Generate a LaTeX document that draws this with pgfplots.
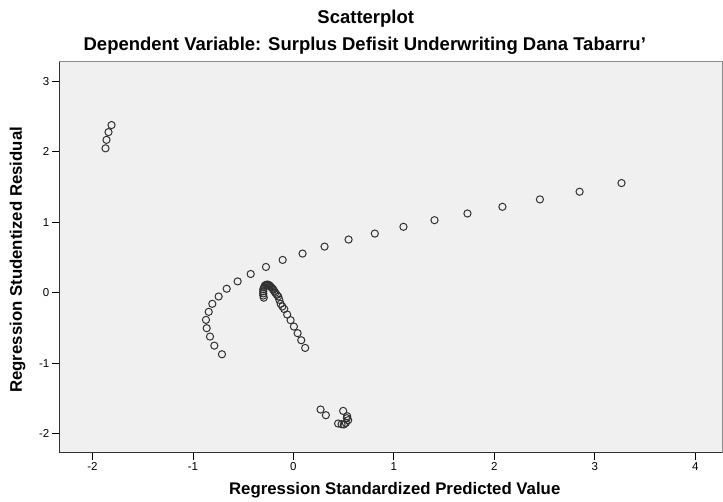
\documentclass[border=0pt]{standalone}
\usepackage{pgfplots}
\pgfplotsset{compat=1.18}
\usepackage{fontspec}
\setmainfont{Liberation Sans}
\definecolor{bgc}{RGB}{240,240,240}
\definecolor{mk}{RGB}{50,50,50}
\begin{document}
\begin{tikzpicture}
\begin{axis}[
  width=663.7pt, height=392pt, scale only axis,
  xmin=-2.33, xmax=4.27, ymin=-2.27, ymax=3.29,
  axis background/.style={fill=bgc},
  axis x line*=bottom, axis y line*=left,
  axis line style={black!80, line width=1pt},
  xtick={-2,-1,0,1,2,3,4}, ytick={-2,-1,0,1,2,3},
  tick align=outside, major tick length=7.5pt,
  tick style={black, line width=0.8pt},
  /pgf/number format/assume math mode=true,
  ticklabel style={font=\fontsize{11.5}{13}\selectfont},
  xticklabel style={yshift=1pt},
  yticklabel style={xshift=1pt},
  clip=false,
]
\path (axis description cs:-0.08935,-0.11735) rectangle (axis description cs:1,1.15561);
\draw[black!45, line width=0.8pt] (rel axis cs:0,1) -- (rel axis cs:0.9994,1) -- (rel axis cs:0.9994,0);
\node[font=\bfseries\fontsize{18.5}{20}\selectfont, anchor=base] at (axis description cs:0.4621,1.0944) {Scatterplot};
\node[font=\bfseries\fontsize{18.5}{20}\selectfont, anchor=base] at (axis description cs:0.4606,1.0255) {Dependent Variable: Surplus Defisit Underwriting Dana Tabarru'};
\node[font=\bfseries\fontsize{16.8}{18}\selectfont, rotate=90] at (axis description cs:-0.0630,0.4923) {Regression Studentized Residual};
\node[font=\bfseries\fontsize{16.8}{18}\selectfont, anchor=base] at (axis description cs:0.5058,-0.1071) {Regression Standardized Predicted Value};
\addplot[only marks, mark=o, mark size=3.6pt, mark options={draw=mk, line width=1pt}] coordinates {
(-1.81,2.38) (-1.84,2.28) (-1.86,2.17) (-1.87,2.05)
(3.265,1.557) (2.848,1.434) (2.453,1.325) (2.08,1.22) (1.732,1.125) (1.404,1.03) (1.095,0.936) (0.81,0.84)
(0.549,0.755) (0.31,0.655) (0.091,0.556) (-0.107,0.466) (-0.273,0.366) (-0.425,0.266) (-0.555,0.161)
(-0.664,0.057) (-0.744,-0.053) (-0.807,-0.157) (-0.843,-0.271) (-0.870,-0.385) (-0.863,-0.503)
(-0.830,-0.622) (-0.787,-0.751) (-0.711,-0.873)
(-0.29,0.08) (-0.285,0.10) (-0.275,0.11) (-0.265,0.115) (-0.255,0.115) (-0.245,0.11) (-0.235,0.10)
(-0.225,0.085) (-0.215,0.07) (-0.205,0.055)
(-0.30,0.05) (-0.30,0.02) (-0.30,-0.01) (-0.30,-0.04) (-0.295,-0.07)
(-0.20,0.043) (-0.19,0.02) (-0.18,0.0) (-0.165,-0.03) (-0.151,-0.053) (-0.14,-0.10) (-0.127,-0.157)
(-0.11,-0.195) (-0.091,-0.232) (-0.062,-0.309) (-0.028,-0.389) (0.005,-0.48) (0.042,-0.574)
(0.078,-0.674) (0.117,-0.783)
(0.27,-1.657) (0.323,-1.738) (0.495,-1.677) (0.535,-1.752) (0.545,-1.809) (0.532,-1.78)
(0.445,-1.856) (0.479,-1.866) (0.502,-1.870) (0.522,-1.848)
};
\end{axis}
\end{tikzpicture}
\end{document}
